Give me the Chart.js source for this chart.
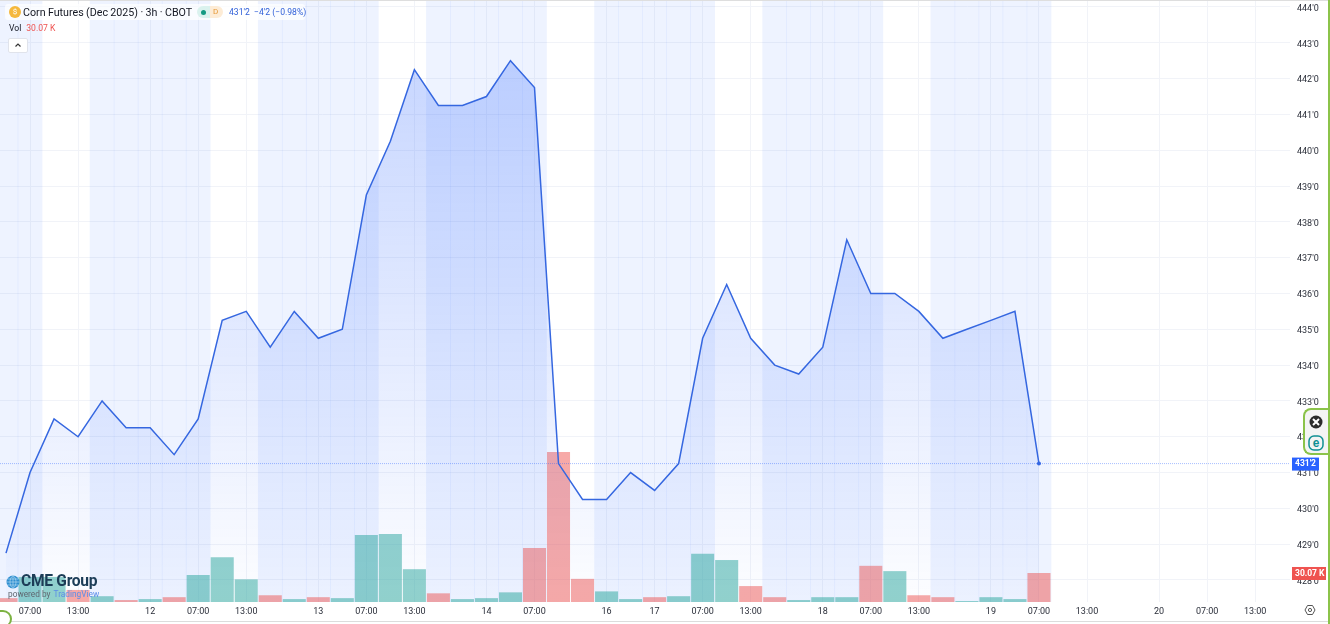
<!DOCTYPE html>
<html lang="en">
<head>
<meta charset="UTF-8">
<title>Corn Futures (Dec 2025)</title>
<script src="https://cdn.jsdelivr.net/npm/chart.js@4/dist/chart.umd.js"></script>
<style>
    html, body { margin: 0; padding: 0; background: #fff; overflow: hidden; }
    .wrapper { position: relative; width: 1330px; height: 624px; font-family: Roboto, sans-serif; color: #131722; }
    canvas { position: absolute; left: 0; top: 0; }
    .abs { position: absolute; white-space: nowrap; }
    .topline { left: 0; top: 0; width: 1330px; height: 1px; background: #dedede; }
    .botline { left: 0; top: 621px; width: 1330px; height: 1px; background: #dcdcdc; }
    .rightbar { left: 1328px; top: 0; width: 2px; height: 624px; background: #8bc34a; }
    .title { left: 23px; top: 5px; font-size: 10.7px; line-height: 15px; word-spacing: -.3px; }
    .backing { left: 5px; top: 4px; width: 300px; height: 16px; background: rgba(255,255,255,.7); border-radius: 3px; }
    .coin { left: 9px; top: 6px; width: 12px; height: 12px; border-radius: 50%; background: #f5b83d; color: #fff; font-size: 8px; line-height: 12px; text-align: center; }
    .pill { left: 197px; top: 6px; width: 26px; height: 12px; border-radius: 6px; background: linear-gradient(90deg, #daf2ee 50%, #fdecd6 50%); }
    .dot { left: 201px; top: 9.5px; width: 5px; height: 5px; border-radius: 50%; background: #149a82; }
    .pillD { left: 213px; top: 6px; font-size: 8px; line-height: 12px; color: #e69a3a; }
    .quote { left: 229px; top: 6px; font-size: 8.6px; line-height: 12px; color: #2f5fd8; }
    .vol { left: 9px; top: 22px; font-size: 8.6px; line-height: 12px; }
    .vol span { color: #ef5350; margin-left: 5px; }
    .btn { left: 8px; top: 38px; width: 18px; height: 13px; border: 1px solid #e0e3eb; border-radius: 2px; background: #fff; }
    .cme { left: 21px; top: 572px; font-size: 15.6px; line-height: 18px; font-weight: bold; color: #1c3d57; letter-spacing: -.3px; }
    .powered { left: 8px; top: 589px; font-size: 8.3px; line-height: 11px; color: #5f6670; }
    .powered span { color: #5b8de8; margin-left: 1px; }
    .badge { left: 0; top: 610px; width: 10px; height: 14px; border-radius: 0 10px 10px 0; background: #fff; border: 2px solid #7cb342; border-left: 0; }
    .widget { left: 1303px; top: 408px; width: 27px; height: 47px; box-sizing: border-box; border: 2px solid #8bc34a; border-right: 0; border-radius: 8px 0 0 8px; background: #f4f4f4; }
    .gear { left: 1304px; top: 604px; }
</style>
</head>
<body>
<div class="wrapper">
    <canvas id="chart" width="1330" height="624" style="width:1330px;height:624px"></canvas>
    <div class="abs topline"></div>
    <div class="abs botline"></div>
    <div class="abs backing"></div>
    <div class="abs coin">$</div>
    <div class="abs title">Corn Futures (Dec 2025) · 3h · CBOT</div>
    <div class="abs pill"></div>
    <div class="abs dot"></div>
    <div class="abs pillD">D</div>
    <div class="abs quote">431'2 &nbsp;−4'2 (−0.98%)</div>
    <div class="abs vol">Vol<span>30.07 K</span></div>
    <div class="abs btn">
        <svg width="18" height="13" viewBox="0 0 18 13" style="display:block"><path d="M6.500 7.500L9 5l2.500 2.500" fill="none" stroke="#333" stroke-width="1.200"/></svg>
    </div>
    <svg class="abs" style="left:6px;top:575px" width="14" height="14" viewBox="0 0 14 14">
        <circle cx="7" cy="7" r="6.500" fill="#2f8fd0"/>
        <path d="M.5 7h13M1.500 4h11M1.500 10h11M7 .5v13M7 .5c-4 3-4 10 0 13M7 .5c4 3 4 10 0 13" fill="none" stroke="#bfe0f5" stroke-width=".6"/>
    </svg>
    <div class="abs cme">CME Group</div>
    <div class="abs powered">powered by <span>TradingView</span></div>
    <div class="abs badge"></div>
    <div class="abs widget"></div>
    <svg class="abs" style="left:1305px;top:410px" width="24" height="44" viewBox="0 0 24 44">
        <circle cx="11" cy="12" r="6.5" fill="#2b2b2b"/>
        <path d="M8 9l6 6M14 9l-6 6" stroke="#fff" stroke-width="2"/>
        <rect x="4" y="26" width="14" height="14" rx="5" fill="none" stroke="#0f8f93" stroke-width="1.5"/>
        <text x="11" y="37" font-size="12" font-weight="bold" text-anchor="middle" fill="#0f8f93" font-family="Liberation Sans">e</text>
    </svg>
    <svg class="abs gear" width="12" height="12" viewBox="0 0 12 12">
        <path d="M3.5 1.5h5L11 6l-2.500 4.500h-5L1 6z" fill="none" stroke="#555" stroke-width="1"/>
        <circle cx="6" cy="6" r="1.600" fill="none" stroke="#555"/>
    </svg>
    <div class="abs rightbar"></div>
</div>

<script>
    // 3h closes, oldest first
    var closes = [428.75, 431, 432.5, 432, 433, 432.25, 432.25, 431.5, 432.5, 435.25, 435.5, 434.5, 435.5, 434.75, 435,
        438.75, 440.25, 442.25, 441.25, 441.25, 441.5, 442.5, 441.75, 431.25, 430.25, 430.25, 431, 430.5, 431.25, 434.75,
        436.25, 434.75, 434, 433.75, 434.5, 437.5, 436, 436, 435.5, 434.75, 435, 435.25, 435.5, 431.25];
    // volume in thousands
    var volumes = [4, 26, 26, 12.5, 6, 2, 3, 5, 28, 46.5, 23.5, 7, 3, 5, 4, 69.5, 70.5, 34, 9, 3, 4, 10, 56, 155.5, 24,
        11, 3, 5, 6, 50, 43.5, 16.5, 5, 2, 5, 5, 37.5, 32, 7, 5, 1, 5, 3, 30.07];
    var volumeUp = [0, 1, 1, 0, 1, 0, 1, 0, 1, 1, 1, 0, 1, 0, 1, 1, 1, 1, 0, 1, 1, 1, 0, 0, 0,
        1, 1, 0, 1, 1, 1, 0, 0, 1, 1, 1, 0, 1, 0, 0, 1, 1, 1, 0];
    // bars that fall in the shaded session
    var sessionBars = [0, 1, 4, 5, 6, 7, 8, 11, 12, 13, 14, 15, 18, 19, 20, 21, 22, 25, 26, 27, 28, 29, 32, 33, 34, 35, 36, 39, 40, 41, 42, 43];
    var xTickBars = [1, 3, 6, 8, 10, 13, 15, 17, 20, 22, 25, 27, 29, 31, 34, 36, 38, 41, 43, 45, 48, 50, 52];
    var xTickLabels = ['07:00', '13:00', '12', '07:00', '13:00', '13', '07:00', '13:00', '14', '07:00', '16', '17', '07:00', '13:00',
        '18', '07:00', '13:00', '19', '07:00', '13:00', '20', '07:00', '13:00'];
    var priceTicks = [444, 443, 442, 441, 440, 439, 438, 437, 436, 435, 434, 433, 432, 431, 430, 429, 428];
    var lastPrice = 431.25;
    var lastPriceLabel = "431'2";
    var lastVolume = 30.07;
    var lastVolumeLabel = '30.07 K';

    var blue = '#3567e0';

    function toPoints(values) {
        return values.map(function(v, i) { return {x: i, y: v}; });
    }

    // the label half-heights would push the plot in from the canvas edge
    function noMargins(axis) {
        axis.paddingTop = 0;
        axis.paddingBottom = 0;
        axis.paddingLeft = 0;
        axis.paddingRight = 0;
    }

    // small coloured tags on the right scale
    var tagsPlugin = {
        id: 'tags',
        afterDraw: function(chart) {
            var ctx = chart.ctx;
            function tag(text, y, w, color) {
                ctx.fillStyle = color;
                ctx.fillRect(1292, y - 6, w, 13);
                ctx.fillStyle = '#fff';
                ctx.font = 'bold 8.5px Roboto';
                ctx.textAlign = 'left';
                ctx.textBaseline = 'middle';
                ctx.fillText(text, 1295, y + 0.5);
            }
            tag(lastPriceLabel, chart.scales.y.getPixelForValue(lastPrice), 27, '#2962ff');
            tag(lastVolumeLabel, chart.scales.vol.getPixelForValue(lastVolume), 34, '#ef5350');
        }
    };

    var canvas = document.getElementById('chart');
    new Chart(canvas, {
        data: {
            datasets: [
                {
                    type: 'line',
                    order: 0,
                    data: [{x: -0.25, y: lastPrice}, {x: 53.45, y: lastPrice}],
                    borderColor: 'rgba(41,98,255,.4)',
                    borderWidth: 1,
                    borderDash: [1, 1],
                    pointRadius: 0
                },
                {
                    type: 'line',
                    order: 1,
                    data: toPoints(closes),
                    borderColor: blue,
                    borderWidth: 1.5,
                    tension: 0,
                    pointRadius: function(c) { return c.dataIndex === closes.length - 1 ? 2 : 0; },
                    pointBackgroundColor: blue,
                    pointBorderWidth: 0,
                    fill: 'start',
                    backgroundColor: function(c) {
                        var area = c.chart.chartArea;
                        if (!area) return 'rgba(41,98,255,.1)';
                        var g = c.chart.ctx.createLinearGradient(0, 60, 0, area.bottom);
                        g.addColorStop(0, 'rgba(41,98,255,.26)');
                        g.addColorStop(1, 'rgba(41,98,255,.01)');
                        return g;
                    }
                },
                {
                    type: 'bar',
                    order: 2,
                    yAxisID: 'vol',
                    data: toPoints(volumes),
                    barPercentage: 0.96,
                    categoryPercentage: 1,
                    backgroundColor: volumeUp.map(function(u) { return u ? 'rgba(38,166,154,.5)' : 'rgba(239,83,80,.5)'; })
                },
                {
                    type: 'bar',
                    order: 3,
                    yAxisID: 'band',
                    data: sessionBars.map(function(i) { return {x: i, y: 1}; }),
                    barPercentage: 1,
                    categoryPercentage: 1,
                    backgroundColor: 'rgba(41,98,255,.08)'
                }
            ]
        },
        options: {
            responsive: false,
            animation: false,
            grouped: false,
            layout: {padding: 0, autoPadding: false},
            plugins: {legend: {display: false}, tooltip: {enabled: false}},
            scales: {
                x: {
                    type: 'linear',
                    offset: false,
                    min: -0.25,
                    max: 53.45,
                    afterBuildTicks: function(axis) {
                        axis.ticks = xTickBars.map(function(i) { return {value: i}; });
                    },
                    afterFit: function(axis) { axis.height = 22; noMargins(axis); },
                    grid: {color: '#f1f3f8', drawTicks: false, offset: false},
                    border: {display: false},
                    ticks: {
                        autoSkip: false,
                        maxRotation: 0,
                        padding: 4,
                        color: '#2a2e39',
                        font: {family: 'Roboto', size: 9},
                        callback: function(v) { return xTickLabels[xTickBars.indexOf(v)]; }
                    }
                },
                y: {
                    position: 'right',
                    min: 427.385,
                    max: 444.195,
                    afterBuildTicks: function(axis) {
                        axis.ticks = priceTicks.map(function(v) { return {value: v}; });
                    },
                    afterFit: function(axis) { axis.width = 40; noMargins(axis); },
                    grid: {color: '#f1f3f8', drawTicks: false},
                    border: {display: false},
                    ticks: {
                        padding: 7,
                        labelOffset: 1.5,
                        color: '#2a2e39',
                        font: {family: 'Roboto', size: 9},
                        callback: function(v) { return v + "'0"; }
                    }
                },
                vol: {display: false, min: 0, max: 624},
                band: {display: false, min: 0, max: 1}
            }
        },
        plugins: [tagsPlugin]
    });
</script>
</body>
</html>
